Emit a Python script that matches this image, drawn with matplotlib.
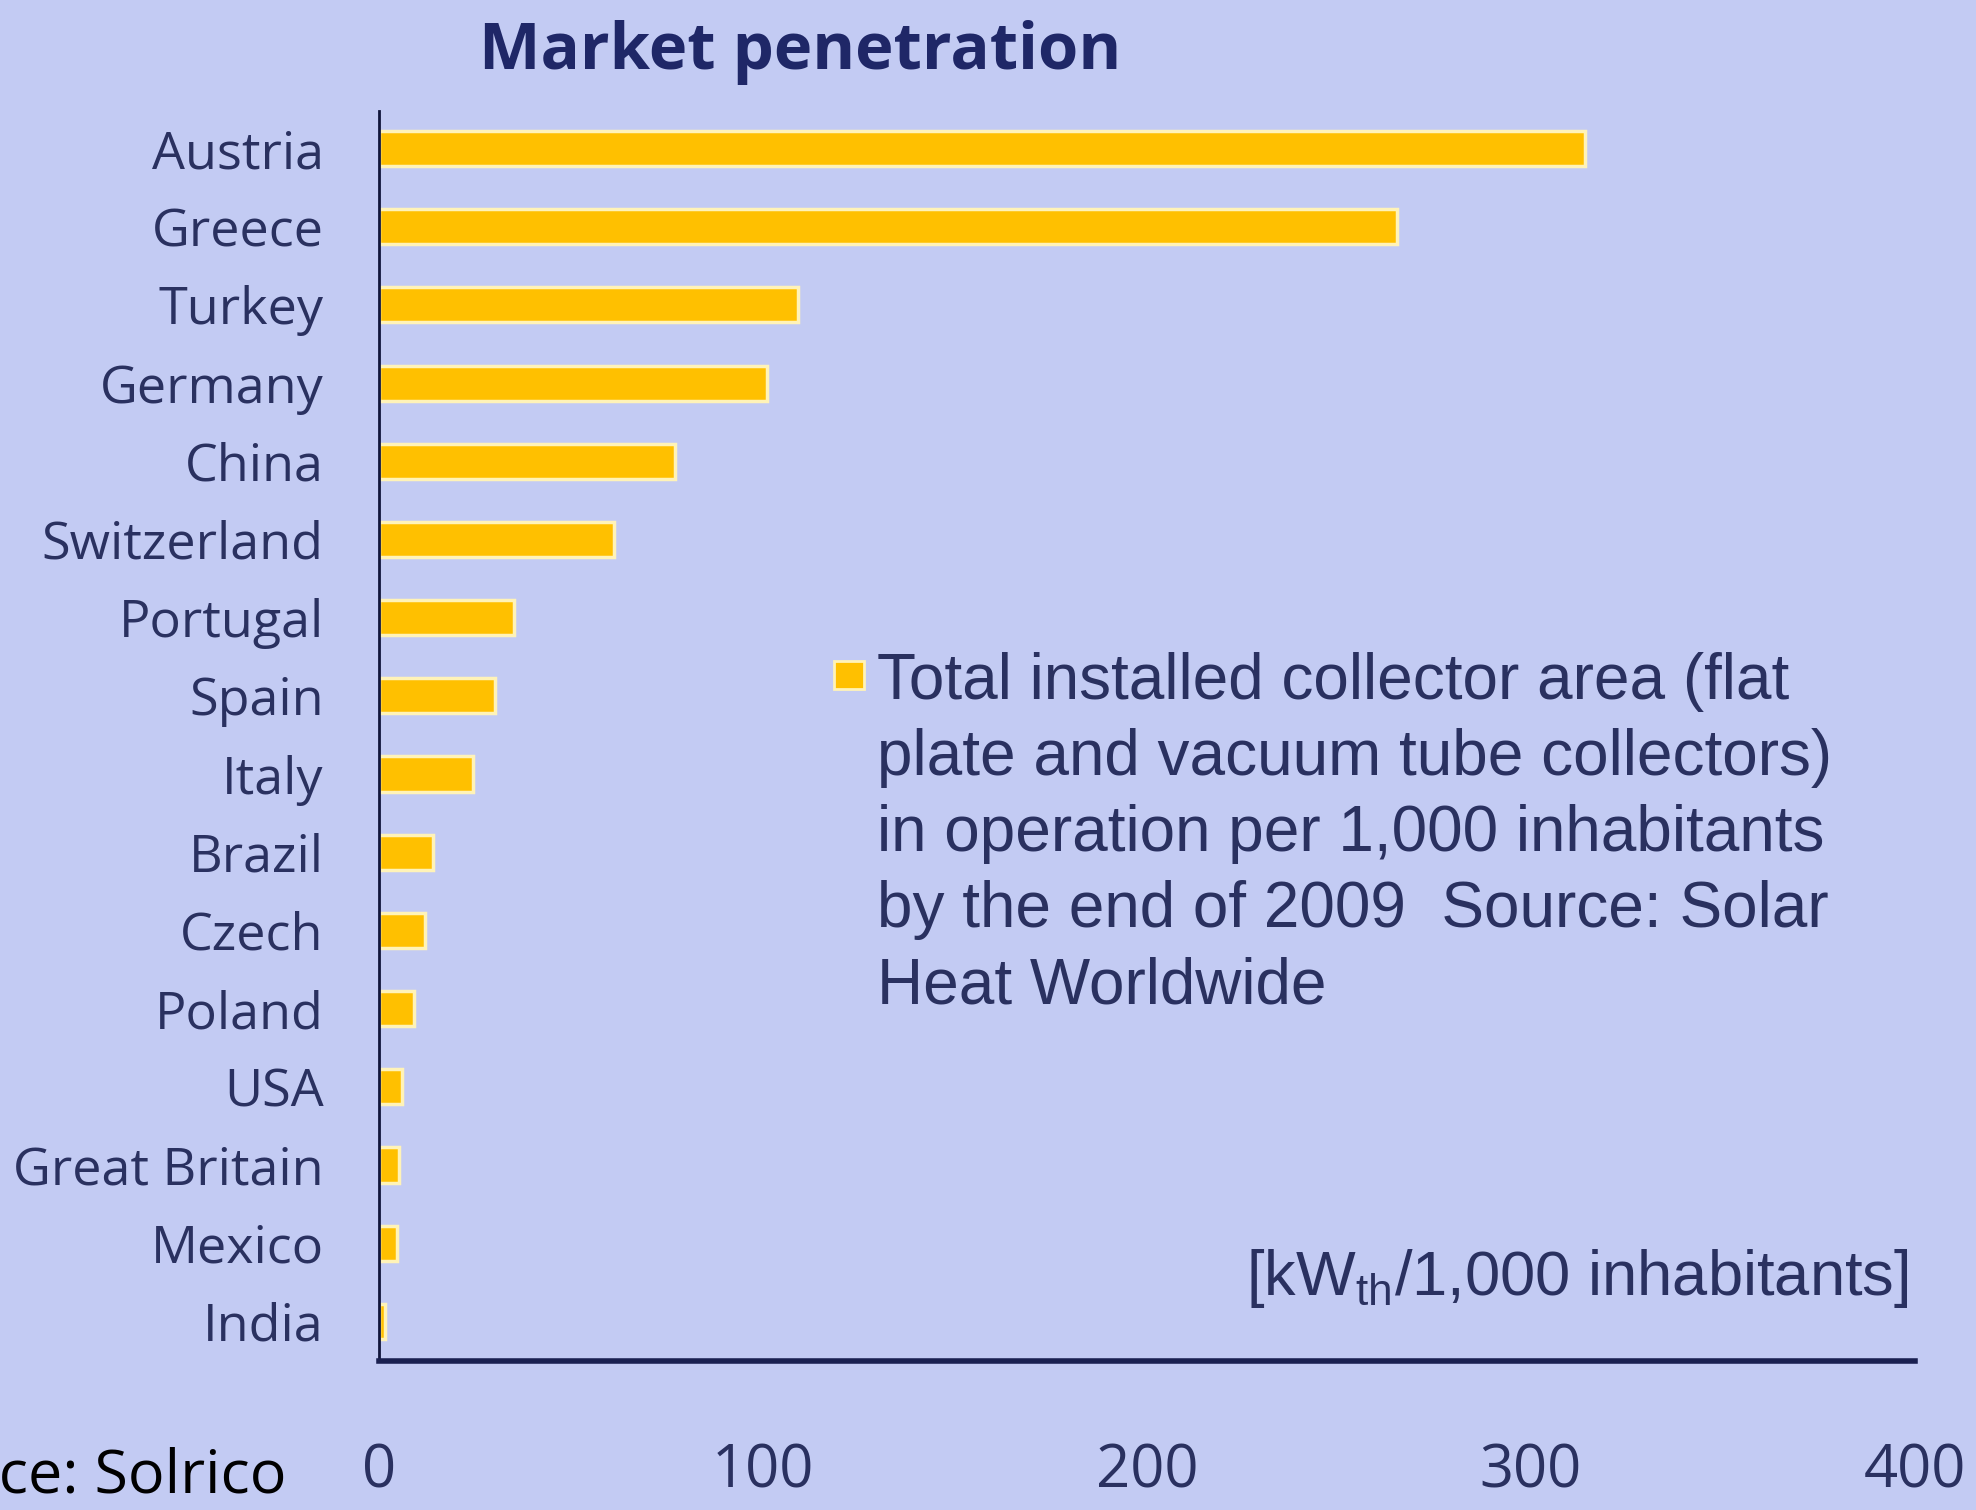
import matplotlib
matplotlib.use("Agg")
import matplotlib.pyplot as plt
from matplotlib.patches import Rectangle

countries = ["Austria", "Greece", "Turkey", "Germany", "China", "Switzerland",
             "Portugal", "Spain", "Italy", "Brazil", "Czech", "Poland", "USA",
             "Great Britain", "Mexico", "India"]
values = [314, 265, 109, 101, 77, 61, 35, 30, 24.5, 14, 12, 9, 6, 5, 4.5, 1.5]
xticks = [0, 100, 200, 300, 400]

bg = "#C3CBF3"
bar_color = "#FFC000"
edge_color = "#FFF3B8"
navy = "#1F2767"
text_col = "#2A3160"

plt.rcParams["mathtext.fontset"] = "custom"
plt.rcParams["mathtext.rm"] = "Liberation Sans"

fig = plt.figure(figsize=(19.76, 15.10), dpi=100, facecolor=bg)
ax = fig.add_axes([0.192, 0.099, 0.777, 0.8275])
ax.set_facecolor(bg)

ypos = list(range(len(countries)))
ax.barh(ypos, values, height=0.45, color=bar_color, edgecolor=edge_color,
        linewidth=2.5)

ax.set_xlim(0, 400)
ax.set_ylim(len(countries) - 0.5, -0.48)
ax.set_yticks(ypos)
ax.set_yticklabels(countries, fontsize=37.5, family="Open Sans", color=text_col)
ax.set_xticks(xticks)
ax.set_xticklabels([str(t) for t in xticks], fontsize=43, family="Open Sans",
                   color=text_col)
ax.tick_params(axis="y", length=0, pad=40)
ax.tick_params(axis="x", length=0, pad=58)

for s in ["top", "right"]:
    ax.spines[s].set_visible(False)
ax.spines["left"].set_color("#10153A")
ax.spines["left"].set_linewidth(2)
ax.spines["bottom"].set_color("#1A2050")
ax.spines["bottom"].set_linewidth(4)

fig.text(0.405, 0.965, "Market penetration", fontsize=47, fontweight="bold",
         family="Open Sans", color=navy, ha="center", va="center")

fig.text(0.145, 0.022, "Source: Solrico", fontsize=44, family="Open Sans",
         color="black", ha="right", va="center")

legend_text = ("Total installed collector area (flat\n"
               "plate and vacuum tube collectors)\n"
               "in operation per 1,000 inhabitants\n"
               "by the end of 2009  Source: Solar\n"
               "Heat Worldwide")
fig.text(0.444, 0.568, legend_text, fontsize=46, family="Liberation Sans",
         color=text_col, ha="left", va="top", linespacing=1.34)
fig.patches.append(Rectangle((0.422, 0.544), 0.015, 0.018,
                             transform=fig.transFigure, facecolor=bar_color,
                             edgecolor=edge_color, linewidth=2))

fig.text(0.966, 0.153, r"[kW$_{\mathrm{th}}$/1,000 inhabitants]", fontsize=45.5,
         family="Liberation Sans", color=text_col, ha="right", va="center")

fig.savefig("out.png", dpi=100, facecolor=bg)
